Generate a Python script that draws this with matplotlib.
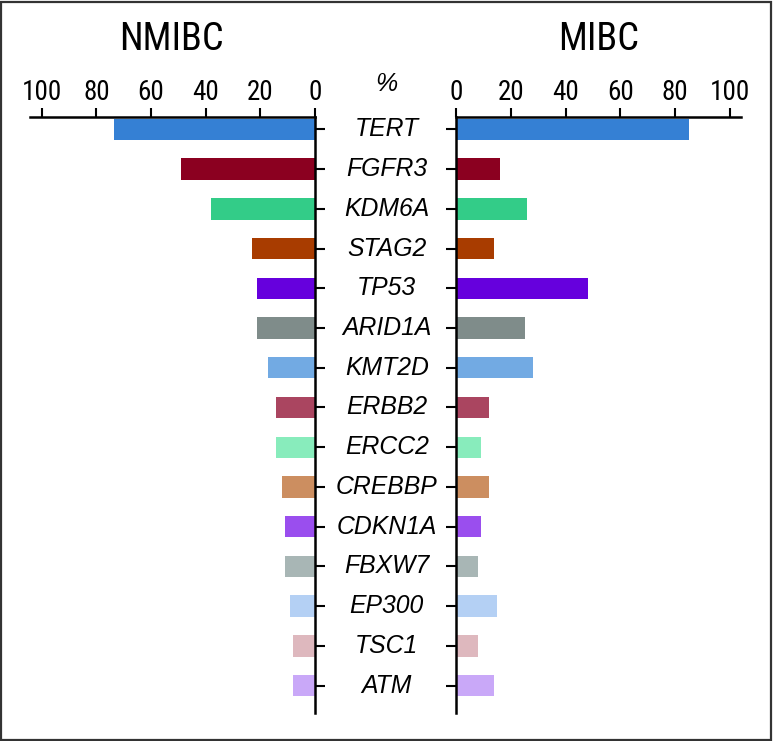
import numpy as np
import matplotlib
matplotlib.use('Agg')
import matplotlib.pyplot as plt
from matplotlib.patches import Rectangle
from matplotlib.transforms import blended_transform_factory

plt.rcParams['font.family'] = ['Roboto Condensed', 'Liberation Sans', 'DejaVu Sans']

# ========================= data =========================
genes = ['TERT', 'FGFR3', 'KDM6A', 'STAG2', 'TP53', 'ARID1A', 'KMT2D', 'ERBB2',
         'ERCC2', 'CREBBP', 'CDKN1A', 'FBXW7', 'EP300', 'TSC1', 'ATM']
nmibc = [73.4, 49, 38, 23, 21, 21, 17, 14, 14, 12, 11, 11, 9, 8, 8]
mibc = [85, 16, 26, 14, 48, 25, 28, 12, 9, 12, 9, 8, 15, 8, 14]
colors = ['#3580D4', '#8B0020', '#33CC88', '#A83C00', '#6600DD', '#7F8C8A', '#72AAE3',
          '#AA4560', '#88ECBC', '#CC8E60', '#9A4EEE', '#A8B6B5', '#B4D0F4', '#DEB8BE',
          '#C9A8F8']
ticks = [0, 20, 40, 60, 80, 100]

W, H = 773, 741
fig = plt.figure(figsize=(W / 100, H / 100), dpi=100)

y = np.arange(len(genes))
top = 1 - 117 / H
bot = 1 - 712.7 / H

axL = fig.add_axes([30 / W, bot, 284.7 / W, top - bot])
axR = fig.add_axes([456 / W, bot, 284.7 / W, top - bot])

axL.barh(y, nmibc, height=0.54, color=colors)
axR.barh(y, mibc, height=0.54, color=colors)

axL.set_xlim(104.3, 0)
axR.set_xlim(0, 103.9)
for ax in (axL, axR):
    ax.set_ylim(14.68, -0.31)
    ax.set_xticks(ticks)
    ax.xaxis.tick_top()
    ax.tick_params(axis='x', direction='out', length=6.5, width=1.5, pad=1.2,
                   labelsize=19.5)
    ax.tick_params(axis='y', direction='out', length=7.2, width=1.5, labelleft=False,
                   labelright=False)
    ax.set_yticks(y)
    ax.spines['bottom'].set_visible(False)
    for s in ax.spines.values():
        s.set_linewidth(1.8)

axL.spines['left'].set_visible(False)
axL.yaxis.tick_right()
axL.tick_params(axis='y', labelright=False)
axR.spines['right'].set_visible(False)
axR.yaxis.tick_left()
axR.tick_params(axis='y', labelleft=False)

# gene names in the middle (plain sans italic)
tr = blended_transform_factory(fig.transFigure, axL.transData)
for i, g in enumerate(genes):
    axL.text(386.7 / W, i, g, transform=tr, ha='center', va='center',
             fontsize=17.8, style='italic', family=['Liberation Sans', 'DejaVu Sans'],
             clip_on=False)

fig.text(171.7 / W, 1 - 40 / H, 'NMIBC', ha='center', va='center', fontsize=27.5)
fig.text(598.7 / W, 1 - 40 / H, 'MIBC', ha='center', va='center', fontsize=27.5)
fig.text(386 / W, 1 - 84 / H, '%', ha='center', va='center', fontsize=18, style='italic',
         family=['Liberation Sans', 'DejaVu Sans'])

# frame round the figure
fig.patches.append(Rectangle((1 / W, 1 / H), 1 - 3 / W, 1 - 3 / H, transform=fig.transFigure,
                             fill=False, edgecolor='#333333', linewidth=1.6))

fig.savefig('out.png', dpi=100)
